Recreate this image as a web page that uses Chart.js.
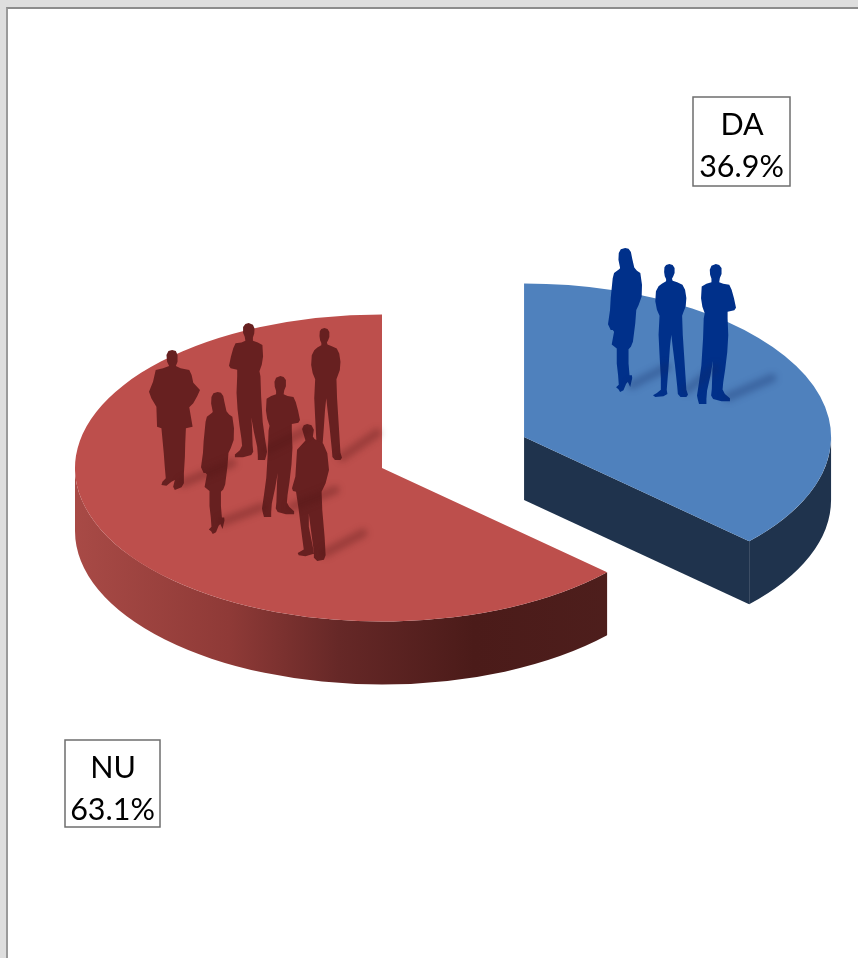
<!DOCTYPE html>
<html>
<head>
<meta charset="utf-8">
<script src="https://cdn.jsdelivr.net/npm/chart.js@4"></script>
<style>
  html, body { margin: 0; padding: 0; width: 858px; height: 958px; overflow: hidden; background: #dedede; }
  #sheet { position: absolute; left: 6px; top: 7px; right: 0; bottom: 0; background: #fff; border-left: 2px solid #9a9a9a; border-top: 2px solid #8c8c8c; }
  #wrap { position: absolute; left: 0; top: 0; width: 858px; height: 958px; }
</style>
</head>
<body>
<div id="sheet"></div>
<div id="wrap"><canvas id="myChart"></canvas></div>
<script>
// Chart values
var categories = ['DA', 'NU'];
var percents = [36.9, 63.1];

// Look of the fake 3D pie
var topColors = ['#4f81bd', '#bd4f4c'];
var explode = [155, 0];      // how far each slice is pulled out of the pie
var squash = 0.5;
var depth = 63;
var centerY = 468;
var labelBoxes = [
    { x: 693, y: 97, w: 97, h: 89 },
    { x: 65, y: 740, w: 95, h: 87 }
];

// Silhouette outlines
var woman = [[105,40],[115,42],[122,52],[126,72],[132,98],[140,108],[150,115],[155,150],[154,185],[145,210],[138,225],[135,265],[128,320],[122,335],[115,342],[115,385],[118,420],[125,420],[126,428],[120,455],[113,440],[108,445],[100,465],[90,470],[85,462],[78,456],[86,448],[84,420],[80,385],[80,340],[65,328],[72,290],[68,285],[62,285],[54,268],[60,225],[62,190],[68,130],[72,115],[88,103],[90,100],[85,75],[86,55],[92,44]];
var standing = [[238,88],[248,91],[254,100],[254,115],[250,125],[246,132],[248,138],[262,143],[278,150],[286,165],[290,190],[288,215],[280,235],[277,243],[279,300],[283,360],[287,420],[290,465],[295,480],[290,487],[272,487],[264,478],[262,455],[255,390],[248,335],[244,300],[240,335],[236,390],[232,440],[230,465],[232,478],[220,485],[195,487],[188,482],[200,475],[212,465],[212,430],[208,360],[205,300],[208,243],[200,225],[195,200],[197,170],[205,155],[215,147],[228,140],[228,133],[224,125],[222,112],[223,98],[228,91]];
var crossed = [[378,88],[388,91],[395,100],[395,118],[390,130],[388,142],[400,147],[418,150],[425,165],[432,190],[438,218],[433,226],[413,230],[413,250],[415,300],[412,350],[406,400],[400,440],[398,462],[405,475],[420,488],[420,497],[395,497],[370,490],[364,480],[366,460],[368,400],[370,375],[362,420],[352,465],[350,490],[350,505],[328,505],[324,490],[322,480],[328,440],[335,390],[340,310],[342,250],[345,235],[338,215],[334,190],[336,155],[350,147],[365,142],[365,132],[361,120],[360,105],[365,93]];
var suit = [[97,120],[108,123],[113,135],[113,155],[108,168],[122,175],[148,180],[155,195],[160,218],[180,240],[172,258],[160,280],[148,292],[158,350],[138,355],[136,400],[135,440],[132,490],[132,520],[125,532],[105,540],[100,530],[105,510],[95,515],[80,527],[65,525],[68,515],[78,505],[75,470],[72,430],[65,355],[52,350],[50,290],[35,265],[28,245],[40,215],[48,180],[70,175],[88,168],[82,155],[80,135],[86,123]];
var sideways = [[500,343],[513,347],[520,360],[517,380],[522,388],[548,402],[560,430],[565,480],[555,520],[543,545],[545,600],[552,680],[555,735],[550,748],[530,752],[520,742],[520,725],[510,650],[505,610],[505,650],[518,715],[520,730],[495,738],[475,735],[472,728],[490,718],[485,680],[475,600],[467,545],[458,543],[455,535],[465,500],[470,420],[495,392],[490,375],[485,358],[490,347]];

var people = [
    { shape: suit, box: [149, 350, 51, 140], color: '#672020' },
    { shape: crossed, box: [229, 323, 38, 137], color: '#672020', flip: true },
    { shape: standing, box: [309, 328, 33, 132], color: '#672020' },
    { shape: woman, box: [201, 392, 33, 142], color: '#672020' },
    { shape: crossed, box: [262, 376, 38, 141], color: '#672020' },
    { shape: sideways, box: [292, 424, 37, 137], color: '#672020' },
    { shape: woman, box: [608, 248, 34, 144], color: '#00308a' },
    { shape: standing, box: [653, 264, 35, 133], color: '#00308a' },
    { shape: crossed, box: [697, 264, 39, 140], color: '#00308a' }
];
var shadows = [
    { from: [183, 483], to: [232, 463], color: 'rgba(80,20,20,0.3)' },
    { from: [222, 522], to: [262, 507], color: 'rgba(80,20,20,0.3)' },
    { from: [267, 450], to: [307, 430], color: 'rgba(80,20,20,0.3)' },
    { from: [292, 507], to: [335, 490], color: 'rgba(80,20,20,0.3)' },
    { from: [325, 553], to: [363, 533], color: 'rgba(80,20,20,0.3)' },
    { from: [342, 457], to: [377, 433], color: 'rgba(80,20,20,0.3)' },
    { from: [632, 385], to: [667, 367], color: 'rgba(15,40,100,0.3)' },
    { from: [687, 390], to: [715, 368], color: 'rgba(15,40,100,0.3)' },
    { from: [728, 397], to: [772, 378], color: 'rgba(15,40,100,0.3)' }
];

function drawPerson(ctx, p) {
    var xs = p.shape.map(function(q) { return q[0]; });
    var ys = p.shape.map(function(q) { return q[1]; });
    var minX = Math.min.apply(null, xs), maxX = Math.max.apply(null, xs);
    var minY = Math.min.apply(null, ys), maxY = Math.max.apply(null, ys);
    ctx.beginPath();
    p.shape.forEach(function(q, i) {
        var u = (q[0] - minX) / (maxX - minX);
        if (p.flip) u = 1 - u;
        var px = p.box[0] + u * p.box[2];
        var py = p.box[1] + (q[1] - minY) / (maxY - minY) * p.box[3];
        if (i == 0) ctx.moveTo(px, py); else ctx.lineTo(px, py);
    });
    ctx.closePath();
    ctx.fillStyle = p.color;
    ctx.fill();
}

// Side wall of the pie, taken from the arc elements chart.js laid out
function drawWalls(chart) {
    var ctx = chart.ctx;
    var baseY = (chart.chartArea.top + chart.chartArea.bottom) / 2;
    chart.getDatasetMeta(0).data.forEach(function(arc, i) {
        var a = arc.getProps(['x', 'y', 'startAngle', 'endAngle', 'outerRadius']);
        var cx = a.x;
        var cy = centerY + (a.y - baseY) * squash;
        var rx = a.outerRadius, ry = a.outerRadius * squash;
        var a1 = Math.max(a.startAngle, 0), a2 = Math.min(a.endAngle, Math.PI);
        var fill = '#1f334d';
        if (i == 1) {
            fill = ctx.createLinearGradient(cx - rx, 0, cx + rx, 0);
            fill.addColorStop(0, '#a84a46');
            fill.addColorStop(0.25, '#8f3a37');
            fill.addColorStop(0.43, '#662827');
            fill.addColorStop(0.65, '#4b1b19');
            fill.addColorStop(1, '#4f201e');
        }
        ctx.fillStyle = fill;
        ctx.beginPath();
        ctx.ellipse(cx, cy, rx, ry, 0, a1, a2);
        ctx.ellipse(cx, cy + depth, rx, ry, 0, a2, a1, true);
        ctx.closePath();
        ctx.fill();
        // the cut face shows only when the slice ends on the right hand side
        if (Math.cos(a.endAngle) > 0) {
            var ex = cx + Math.cos(a.endAngle) * rx, ey = cy + Math.sin(a.endAngle) * ry;
            ctx.beginPath();
            ctx.moveTo(cx, cy);
            ctx.lineTo(ex, ey);
            ctx.lineTo(ex, ey + depth);
            ctx.lineTo(cx, cy + depth);
            ctx.closePath();
            ctx.fill();
        }
    });
}

var pie3d = {
    id: 'pie3d',
    // arc offset also grows the slice, so the slice is moved by hand instead
    afterDatasetsUpdate: function(chart) {
        chart.getDatasetMeta(0).data.forEach(function(arc, i) {
            var mid = (arc.startAngle + arc.endAngle) / 2;
            arc.x += Math.cos(mid) * explode[i];
            arc.y += Math.sin(mid) * explode[i];
        });
    },
    beforeDatasetDraw: function(chart) {
        drawWalls(chart);
        var ctx = chart.ctx;
        var baseY = (chart.chartArea.top + chart.chartArea.bottom) / 2;
        ctx.save();
        ctx.translate(0, centerY);
        ctx.scale(1, squash);
        ctx.translate(0, -baseY);
    },
    afterDatasetDraw: function(chart) {
        chart.ctx.restore();
    },
    afterDraw: function(chart) {
        var ctx = chart.ctx;
        ctx.save();
        // people and their shadows
        ctx.filter = 'blur(0.5px)';
        people.forEach(function(p) { drawPerson(ctx, p); });
        ctx.filter = 'blur(3px)';
        ctx.lineCap = 'round';
        ctx.lineWidth = 9;
        shadows.forEach(function(s) {
            ctx.strokeStyle = s.color;
            ctx.beginPath();
            ctx.moveTo(s.from[0], s.from[1]);
            ctx.lineTo(s.to[0], s.to[1]);
            ctx.stroke();
        });
        ctx.filter = 'none';
        // data labels
        ctx.textAlign = 'center';
        ctx.textBaseline = 'middle';
        ctx.font = '30.5px Lato, "Noto Sans", sans-serif';
        categories.forEach(function(name, i) {
            var b = labelBoxes[i];
            ctx.fillStyle = '#fff';
            ctx.fillRect(b.x, b.y, b.w, b.h);
            ctx.strokeStyle = '#6e6e6e';
            ctx.lineWidth = 1.5;
            ctx.strokeRect(b.x, b.y, b.w, b.h);
            ctx.fillStyle = '#000';
            ctx.fillText(name, b.x + b.w / 2 + 0.5, b.y + 28.5);
            ctx.fillText(percents[i].toFixed(1) + '%', b.x + b.w / 2, b.y + 70);
        });
        ctx.restore();
    }
};

new Chart(document.getElementById('myChart'), {
    type: 'pie',
    data: {
        labels: categories,
        datasets: [{
            data: percents,
            backgroundColor: topColors,
            borderWidth: 0,
            hoverOffset: 0,
            clip: false
        }]
    },
    options: {
        responsive: true,
        maintainAspectRatio: false,
        animation: false,
        radius: 307,
        rotation: 0,
        layout: { padding: { right: 94 } },
        events: [],
        plugins: {
            legend: { display: false },
            tooltip: { enabled: false }
        }
    },
    plugins: [pie3d]
});
</script>
</body>
</html>
